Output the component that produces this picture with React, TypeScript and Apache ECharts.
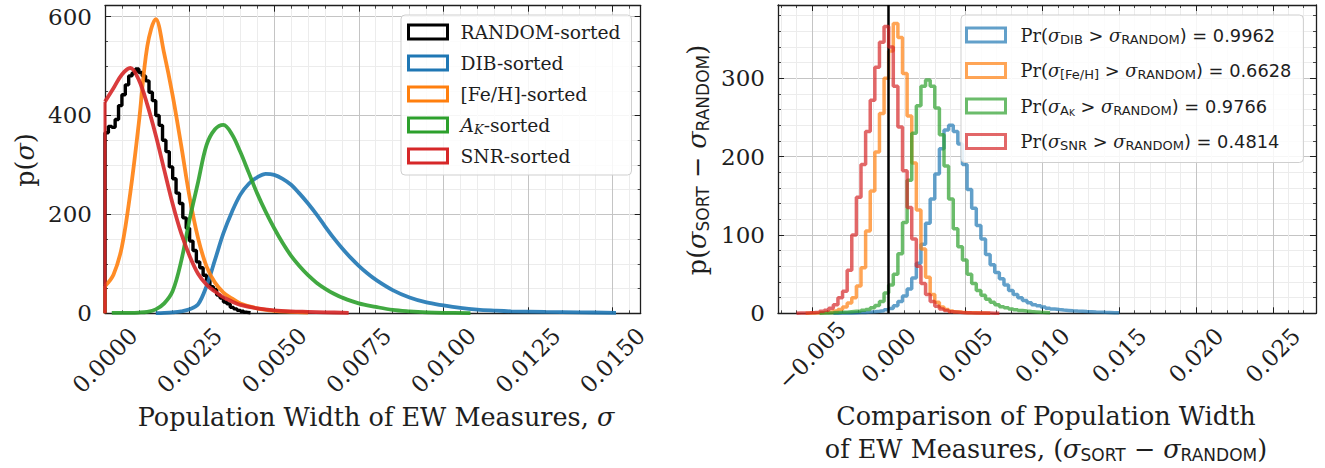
import React, { useEffect, useRef } from "react";
import * as echarts from "echarts";

// ---------------- Left panel: p(sigma) ----------------
const randomBinStart = 0;
const randomBinWidth = 0.0001;
const randomDensity = [
  365, 378, 376, 392, 420, 442, 462, 480, 486, 494, 487, 480, 470, 447, 430, 400, 380, 350, 327, 296,
  272, 243, 222, 193, 172, 146, 127, 104, 92, 77, 67, 54, 48, 37, 31, 23, 19, 12, 9, 6, 4, 2, 1,
];

const dibSigma = [
  0.0015, 0.00175, 0.002, 0.00225, 0.0025, 0.00275, 0.003, 0.00325, 0.0035, 0.00375, 0.004, 0.00425,
  0.0045, 0.00475, 0.005, 0.00525, 0.0055, 0.00575, 0.006, 0.00625, 0.0065, 0.00675, 0.007, 0.00725,
  0.0075, 0.00775, 0.008, 0.0085, 0.009, 0.0095, 0.01, 0.0105, 0.011, 0.0115, 0.012, 0.013, 0.014, 0.0151,
];
const dibDensity = [
  0.5, 1, 2, 4, 8, 18, 55, 108, 162, 205, 240, 262, 275, 282, 280, 272, 260, 242, 222, 200, 176, 153,
  132, 113, 96, 81, 68, 47, 32, 22, 16, 11, 7.5, 5.5, 4, 2.8, 2, 1,
];

const fehSigma = [
  0, 0.00025, 0.0005, 0.00075, 0.001, 0.00125, 0.0015, 0.00175, 0.002, 0.00225, 0.0025, 0.00275, 0.003,
  0.00325, 0.0035, 0.00375, 0.004, 0.0045, 0.005, 0.0055, 0.006,
];
const fehDensity = [55, 78, 135, 245, 385, 540, 595, 525, 440, 340, 235, 152, 95, 62, 42, 30, 20, 10, 5, 3, 1.5];

const akSigma = [
  0.0002, 0.0005, 0.00075, 0.001, 0.00125, 0.0015, 0.00175, 0.002, 0.00225, 0.0025, 0.00275, 0.003,
  0.00325, 0.0035, 0.00375, 0.004, 0.00425, 0.0045, 0.00475, 0.005, 0.00525, 0.0055, 0.00575, 0.006,
  0.00625, 0.0065, 0.00675, 0.007, 0.0075, 0.008, 0.0085, 0.009, 0.0095, 0.01, 0.0108,
];
const akDensity = [
  1, 1, 1, 1.5, 3, 8, 20, 45, 105, 190, 265, 340, 372, 381, 362, 326, 284, 242, 205, 172, 142, 116, 95,
  77, 62, 50, 40, 32, 20, 13, 7, 4, 2, 1, 0.5,
];

const snrSigma = [
  0, 0.00025, 0.0005, 0.00075, 0.001, 0.00125, 0.0015, 0.00175, 0.002, 0.00225, 0.0025, 0.00275, 0.003,
  0.00325, 0.0035, 0.00375, 0.004, 0.0045, 0.005, 0.0055, 0.006, 0.0065, 0.0072,
];
const snrDensity = [428, 455, 483, 496, 472, 422, 360, 290, 221, 162, 116, 80, 58, 44, 32, 24, 17, 10, 6, 4, 3, 2, 1];

// ---------------- Right panel: p(sigma_SORT - sigma_RANDOM) ----------------
const diffBinWidth = 0.0003;
const dibDiffStart = -0.0036;
const dibDiffDensity = [
  0.2, 0.3, 0.4, 0.5, 0.7, 0.9, 1.1, 1.5, 2, 2.6, 3.3, 4.5, 6, 9.5, 15, 22, 31, 45, 64, 88, 115, 146, 178,
  210, 234, 240, 232, 216, 190, 158, 134, 112, 95, 75, 62, 52, 44, 36, 29, 24, 20, 16.5, 13.5, 11, 9.5, 8,
  6.5, 5.5, 4.8, 4.2, 3.7, 3.2, 2.8, 2.5, 2.2, 2, 1.7, 1.5, 1.2, 1, 0.8, 0.6,
];
const fehDiffStart = -0.0054;
const fehDiffDensity = [
  0.3, 0.5, 0.7, 1, 1.5, 2, 3, 5, 8, 13, 20, 35, 58, 105, 156, 206, 255, 300, 335, 370, 352, 306, 252, 192,
  132, 82, 46, 24, 14, 8, 5, 3, 2, 1.4, 1, 0.8, 0.6, 0.4, 0.3, 0.2,
];
const akDiffStart = -0.0045;
const akDiffDensity = [
  0.3, 0.5, 0.7, 1, 1.2, 1.5, 2, 2.5, 3, 4, 5, 7, 10, 15, 26, 36, 50, 76, 116, 170, 230, 265, 290, 298, 290,
  262, 228, 188, 146, 108, 85, 68, 50, 38, 29, 23, 18, 14, 11, 8.5, 7, 5.5, 4.5, 3.5, 2.8, 2.2, 1.8, 1.3, 1, 0.6,
];
const snrDiffStart = -0.006;
const snrDiffDensity = [
  0.3, 0.4, 0.6, 1, 1.5, 2.5, 4, 6.5, 11, 20, 28, 55, 100, 148, 190, 232, 272, 314, 346, 366, 340, 290, 238,
  182, 135, 95, 60, 38, 24, 15, 9, 5.5, 3.5, 2, 1.5, 1, 0.8, 0.6, 0.5, 0.4, 0.3, 0.3, 0.2, 0.2,
];

const leftNames = ["RANDOM-sorted", "DIB-sorted", "[Fe/H]-sorted", "AK-sorted", "SNR-sorted"];
const rightNames = ["PrDIB", "PrFeH", "PrAK", "PrSNR"];
const probabilities = ["0.9962", "0.6628", "0.9766", "0.4814"];

const LEFT_X_MAX = 0.01583;
const LEFT_Y_MAX = 622;
const RIGHT_X_MIN = -0.0072;
const RIGHT_X_MAX = 0.0278;
const RIGHT_Y_MAX = 393.6;

const BLUE = "#1f77b4";
const ORANGE = "#ff7f0e";
const GREEN = "#2ca02c";
const RED = "#d62728";
const BLACK = "#000000";
const fade = (hex: string, a: number) => {
  const n = parseInt(hex.slice(1), 16);
  return `rgba(${(n >> 16) & 255},${(n >> 8) & 255},${n & 255},${a})`;
};

const SERIF = '"DejaVu Serif", serif';
const SANS = '"DejaVu Sans", sans-serif';
const INK = "#1e1e1e";

function histPoints(start: number, width: number, values: number[]) {
  const pts: number[][] = [[start, 0]];
  values.forEach((v, i) => pts.push([start + i * width, v]));
  pts.push([start + values.length * width, 0]);
  return pts;
}
function pairs(xs: number[], ys: number[]) {
  return xs.map((x, i) => [x, ys[i]]);
}

function frameAxis(extra: any, primary: boolean) {
  return {
    type: "value",
    axisLine: { show: true, onZero: false, lineStyle: { color: INK, width: 1.3 } },
    axisTick: { show: true, inside: true, length: 6, lineStyle: { color: INK, width: 1 } },
    splitLine: { show: primary, lineStyle: { color: "#c4c4c4", width: 1 } },
    minorSplitLine: { show: primary, lineStyle: { color: "#ececec", width: 1 } },
    axisLabel: { show: false },
    ...extra,
    minorTick: { show: true, length: 3, lineStyle: { color: INK, width: 0.8 }, ...(extra.minorTick || {}) },
  };
}

export default function App() {
  const ref = useRef<HTMLDivElement>(null);

  useEffect(() => {
    if (!ref.current) return;
    const chart = echarts.init(ref.current, undefined, { renderer: "svg" });

    const tickFont = { fontFamily: SERIF, fontSize: 23, color: INK };

    const xLeft = { gridIndex: 0, min: 0, max: LEFT_X_MAX, interval: 0.0025, minorTick: { splitNumber: 5 } };
    const yLeft = { gridIndex: 0, min: 0, max: LEFT_Y_MAX, interval: 200, minorTick: { splitNumber: 4 } };
    const xRight = { gridIndex: 1, min: RIGHT_X_MIN, max: RIGHT_X_MAX, splitNumber: 7, minorTick: { splitNumber: 5 } };
    const yRight = { gridIndex: 1, min: 0, max: RIGHT_Y_MAX, interval: 100, minorTick: { splitNumber: 5 } };

    const xAxis = [
      frameAxis(
        {
          ...xLeft,
          position: "bottom",
          axisLabel: {
            show: true, ...tickFont, rotate: 45, align: "center", verticalAlign: "middle", margin: 47,
            showMaxLabel: false, formatter: (v: number) => v.toFixed(4),
          },
        },
        true
      ),
      frameAxis({ ...xLeft, position: "top" }, false),
      frameAxis(
        {
          ...xRight,
          position: "bottom",
          axisLabel: {
            show: true, ...tickFont, rotate: 45, align: "center", verticalAlign: "middle", margin: 42,
            showMinLabel: false, showMaxLabel: false,
            formatter: (v: number) => v.toFixed(3).replace("-", "\u2212"),
          },
        },
        true
      ),
      frameAxis({ ...xRight, position: "top" }, false),
    ];
    const yAxis = [
      frameAxis({ ...yLeft, position: "left", axisLabel: { show: true, ...tickFont, margin: 13, showMaxLabel: false } }, true),
      frameAxis({ ...yLeft, position: "right" }, false),
      frameAxis({ ...yRight, position: "left", axisLabel: { show: true, ...tickFont, margin: 13, showMaxLabel: false } }, true),
      frameAxis({ ...yRight, position: "right" }, false),
    ];

    const smoothLine = (name: string, xs: number[], ys: number[], color: string, z: number) => ({
      name, type: "line", xAxisIndex: 0, yAxisIndex: 0, data: pairs(xs, ys), smooth: 0.35,
      symbol: "none", showSymbol: false, z,
      lineStyle: { color, width: 3.8, opacity: 0.9 }, itemStyle: { color },
    });
    const edgeLine = (name: string, xs: number[], ys: number[], color: string, z: number) => ({
      name, type: "line", xAxisIndex: 0, yAxisIndex: 0, data: [[xs[0], 0], [xs[0], ys[0]]],
      symbol: "none", showSymbol: false, z,
      lineStyle: { color, width: 3, opacity: 0.9 }, itemStyle: { color },
    });
    const diffHist = (name: string, start: number, values: number[], color: string, z: number) => ({
      name, type: "line", xAxisIndex: 2, yAxisIndex: 2, data: histPoints(start, diffBinWidth, values),
      step: "end", symbol: "none", showSymbol: false, z,
      lineStyle: { color: fade(color, 0.7), width: 3.5 }, itemStyle: { color: fade(color, 0.7) },
    });

    const series: any[] = [
      {
        name: leftNames[0], type: "line", xAxisIndex: 0, yAxisIndex: 0,
        data: histPoints(randomBinStart, randomBinWidth, randomDensity), step: "end",
        symbol: "none", showSymbol: false, z: 2,
        lineStyle: { color: BLACK, width: 3.4 }, itemStyle: { color: BLACK },
      },
      smoothLine(leftNames[1], dibSigma, dibDensity, BLUE, 3),
      edgeLine("fehEdge", fehSigma, fehDensity, ORANGE, 4),
      smoothLine(leftNames[2], fehSigma, fehDensity, ORANGE, 4),
      smoothLine(leftNames[3], akSigma, akDensity, GREEN, 5),
      edgeLine("snrEdge", snrSigma, snrDensity, RED, 6),
      smoothLine(leftNames[4], snrSigma, snrDensity, RED, 6),
      diffHist(rightNames[0], dibDiffStart, dibDiffDensity, BLUE, 2),
      diffHist(rightNames[1], fehDiffStart, fehDiffDensity, ORANGE, 3),
      diffHist(rightNames[2], akDiffStart, akDiffDensity, GREEN, 4),
      {
        ...diffHist(rightNames[3], snrDiffStart, snrDiffDensity, RED, 5),
        markLine: {
          silent: true, symbol: ["none", "none"], label: { show: false },
          lineStyle: { color: "#000", width: 2.5, type: "solid", opacity: 1 },
          emphasis: { disabled: true },
          data: [{ xAxis: 0 }],
        },
      },
    ];

    const legendBase = {
      orient: "vertical", icon: "rect", itemWidth: 39, itemHeight: 14, selectedMode: false,
      backgroundColor: "rgba(255,255,255,0.85)", borderColor: "#cfcfcf", borderWidth: 1, borderRadius: 4,
    };
    const boxItem = (name: string, color: string) => ({
      name, itemStyle: { color: "rgba(0,0,0,0)", borderColor: color, borderWidth: 3 },
    });

    const leftLabels: Record<string, string> = {
      "RANDOM-sorted": "{n|RANDOM-sorted}",
      "DIB-sorted": "{n|DIB-sorted}",
      "[Fe/H]-sorted": "{n|[Fe/H]-sorted}",
      "AK-sorted": "{it|A}{sub|K}{n|-sorted}",
      "SNR-sorted": "{n|SNR-sorted}",
    };
    const rightSubs = ["{sub|DIB}", "{sub|[Fe/H]}", "{sub|A}{subsub|K}", "{sub|SNR}"];
    const rightLabels: Record<string, string> = {};
    rightNames.forEach((n, i) => {
      rightLabels[n] = `{n|Pr(}{it|σ}${rightSubs[i]}{s| > }{it|σ}{sub|RANDOM}{s|) = ${probabilities[i]}}`;
    });

    const legend = [
      {
        ...legendBase, left: 401, top: 15, itemGap: 9, padding: [6, 11, 8, 6],
        data: [
          boxItem(leftNames[0], BLACK), boxItem(leftNames[1], BLUE), boxItem(leftNames[2], ORANGE),
          boxItem(leftNames[3], GREEN), boxItem(leftNames[4], RED),
        ],
        formatter: (name: string) => leftLabels[name],
        textStyle: {
          color: INK, fontFamily: SERIF, fontSize: 18.7, lineHeight: 22, padding: [0, 0, 0, 8],
          rich: {
            n: { fontFamily: SERIF, fontSize: 18.7, lineHeight: 22 },
            it: { fontFamily: SERIF, fontStyle: "italic", fontSize: 18.7, lineHeight: 22 },
            sub: { fontFamily: SERIF, fontStyle: "italic", fontSize: 13, lineHeight: 15, padding: [8, 0, 0, 0] },
          },
        },
      },
      {
        ...legendBase, left: 961, top: 15, itemGap: 11.5, padding: [8, 12, 9, 4],
        data: [
          boxItem(rightNames[0], fade(BLUE, 0.7)), boxItem(rightNames[1], fade(ORANGE, 0.7)),
          boxItem(rightNames[2], fade(GREEN, 0.7)), boxItem(rightNames[3], fade(RED, 0.7)),
        ],
        formatter: (name: string) => rightLabels[name],
        textStyle: {
          color: INK, fontFamily: SANS, fontSize: 17.8, lineHeight: 24, padding: [0, 0, 0, 10],
          rich: {
            n: { fontFamily: SERIF, fontSize: 17.8, lineHeight: 24 },
            it: { fontFamily: SERIF, fontStyle: "italic", fontSize: 17.8, lineHeight: 24 },
            s: { fontFamily: SANS, fontSize: 17.8, lineHeight: 24 },
            sub: { fontFamily: SANS, fontSize: 13, lineHeight: 16, padding: [8, 0, 0, 0] },
            subsub: { fontFamily: SANS, fontSize: 9, lineHeight: 12, padding: [14, 0, 0, 0] },
          },
        },
      },
    ];

    const titleRich = {
      n: { fontFamily: SERIF, fontSize: 25.5, fill: INK },
      it: { fontFamily: SERIF, fontStyle: "italic", fontSize: 25.5, fill: INK },
      s: { fontFamily: SANS, fontSize: 25.5, fill: INK },
      sub: { fontFamily: SANS, fontSize: 17, fill: INK, padding: [11, 0, 0, 0] },
    };
    const title = (text: string, x: number, y: number, rotation = 0) => ({
      type: "text", x, y, rotation, silent: true,
      style: { text, rich: titleRich, align: "center", verticalAlign: "middle", fill: INK, fontFamily: SERIF, fontSize: 25.5 },
    });

    const graphic = [
      title("{n|p(}{it|σ}{n|)}", 25, 160, Math.PI / 2),
      title("{n|Population Width of EW Measures, }{it|σ}", 376, 417),
      title("{n|p(}{it|σ}{sub|SORT}{s| − }{it|σ}{sub|RANDOM}{n|)}", 697, 160, Math.PI / 2),
      title("{n|Comparison of Population Width}", 1046, 416),
      title("{n|of EW Measures, (}{it|σ}{sub|SORT}{s| − }{it|σ}{sub|RANDOM}{n|)}", 1046, 449),
    ];

    chart.setOption({
      animation: false,
      backgroundColor: "#ffffff",
      grid: [
        { left: 105, top: 5.7, width: 535.7, height: 307.6 },
        { left: 778, top: 5, width: 538, height: 308.3 },
      ],
      xAxis,
      yAxis,
      legend,
      series,
      graphic,
    });

    return () => chart.dispose();
  }, []);

  return (
    <div
      ref={ref}
      style={{ position: "absolute", left: 0, top: 0, width: 1325, height: 468, background: "#fff" }}
    />
  );
}
